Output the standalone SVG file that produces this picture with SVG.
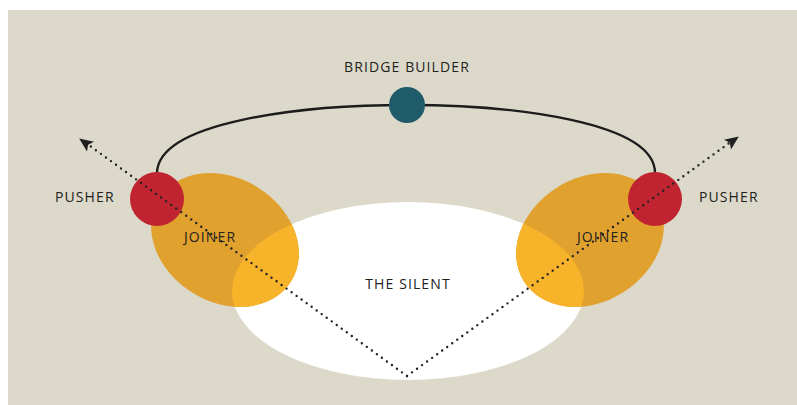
<svg xmlns="http://www.w3.org/2000/svg" width="797" height="405" viewBox="0 0 797 405">
<style>
.lbl{font-family:"Open Sans","Liberation Sans",sans-serif;font-size:14px;fill:#222220;letter-spacing:1.1px}
.joiner{fill:#E0A12E}
.overlap{fill:#F7B42A}
.pusher{fill:#BF2430}
.dots{fill:none;stroke:#222;stroke-width:2.4;stroke-linecap:round;stroke-dasharray:0 6.2}
</style>
<defs>
<clipPath id="silentClip"><ellipse cx="408" cy="291" rx="176" ry="89"/></clipPath>
<marker id="arrow" viewBox="0 0 14 12" refX="13" refY="6" markerWidth="14" markerHeight="12" markerUnits="userSpaceOnUse" orient="auto">
<path d="M0,0 L14,6 L0,12 L3,6 Z" fill="#1f1f1f"/>
</marker>
</defs>
<rect x="0" y="0" width="797" height="405" fill="#ffffff"/>
<rect x="8" y="10" width="789" height="395" fill="#DCD9CA"/>
<g id="silent">
<ellipse cx="408" cy="291" rx="176" ry="89" fill="#ffffff"/>
</g>
<g id="joiner-left">
<ellipse class="joiner" cx="225" cy="240" rx="78" ry="62" transform="rotate(32 225 240)"/>
<g clip-path="url(#silentClip)">
<ellipse class="overlap" cx="225" cy="240" rx="78" ry="62" transform="rotate(32 225 240)"/>
</g>
<text class="lbl" x="184" y="242">JOINER</text>
</g>
<g id="joiner-right">
<ellipse class="joiner" cx="590" cy="240" rx="78" ry="62" transform="rotate(-32 590 240)"/>
<g clip-path="url(#silentClip)">
<ellipse class="overlap" cx="590" cy="240" rx="78" ry="62" transform="rotate(-32 590 240)"/>
</g>
<text class="lbl" x="577" y="242">JOINER</text>
</g>
<g id="connectors">
<path d="M157,173 C158,122 300,105 407,105 C514,105 655,122 655,173" fill="none" stroke="#1c1c1c" stroke-width="2.4"/>
</g>
<g id="pusher-left">
<circle class="pusher" cx="157" cy="199" r="27"/>
<text class="lbl" x="55" y="202">PUSHER</text>
</g>
<g id="pusher-right">
<circle class="pusher" cx="655" cy="199" r="27"/>
<text class="lbl" x="699" y="202">PUSHER</text>
</g>
<g id="bridge-builder">
<circle cx="407" cy="105" r="18" fill="#1F5B69"/>
<text class="lbl" x="407" y="72" text-anchor="middle">BRIDGE BUILDER</text>
</g>
<g id="the-silent-label">
<text class="lbl" x="408" y="289" text-anchor="middle">THE SILENT</text>
</g>
<g id="dotted">
<path class="dots" d="M407,376 L86,143"/>
<path class="dots" d="M407,376 L732,141"/>
<path d="M407,376 L80,139" fill="none" stroke="none" marker-end="url(#arrow)"/>
<path d="M407,376 L738,137" fill="none" stroke="none" marker-end="url(#arrow)"/>
</g>
</svg>
